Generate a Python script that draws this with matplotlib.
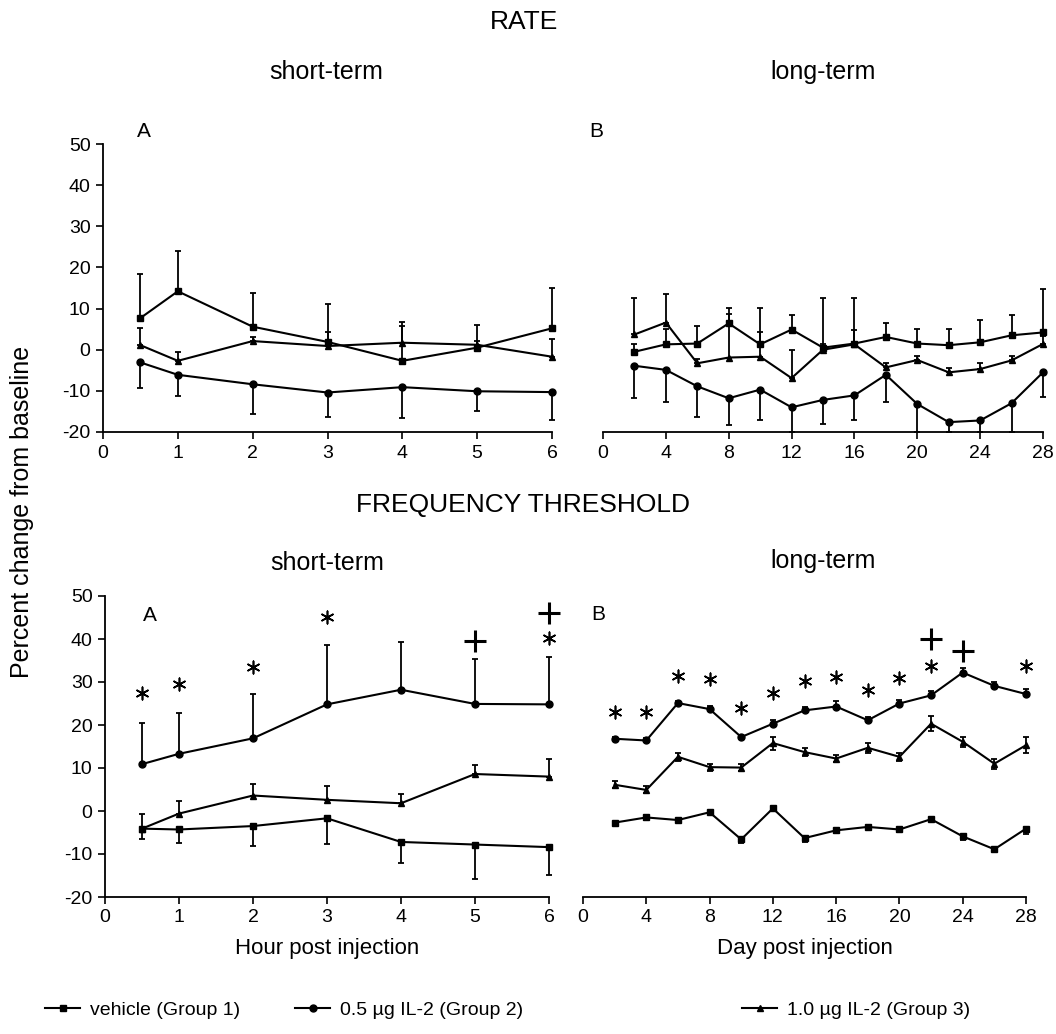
import matplotlib
matplotlib.use("Agg")
import matplotlib.pyplot as plt
from matplotlib.lines import Line2D

plt.rcParams["font.family"] = ["Liberation Sans", "DejaVu Sans"]
plt.rcParams["axes.unicode_minus"] = False

W, H = 1056, 1034

# --- Данные: % изменения от базовой линии ---
hours = [0.5, 1, 2, 3, 4, 5, 6]
days = [2, 4, 6, 8, 10, 12, 14, 16, 18, 20, 22, 24, 26, 28]

# RATE, short-term
rate_st_veh = [7.7, 14.2, 5.6, 1.9, -2.7, 0.5, 5.2]
rate_st_veh_err = [10.7, 9.7, 8.2, 9.3, 9.5, 5.6, 9.9]
rate_st_g2 = [-3.1, -6.1, -8.4, -10.4, -9.1, -10.1, -10.3]
rate_st_g2_err = [6.2, 5.1, 7.2, 6.0, 7.5, 4.9, 6.7]
rate_st_g3 = [1.1, -2.7, 2.1, 0.9, 1.7, 1.2, -1.7]
rate_st_g3_err = [4.1, 2.2, 1.0, 3.4, 4.0, 1.0, 4.3]

# RATE, long-term
rate_lt_veh = [-0.5, 1.3, 1.5, 6.4, 1.3, 4.9, 0.5, 1.5, 3.1, 1.5, 1.1, 1.8, 3.5, 4.2]
rate_lt_veh_err = [2.0, 3.8, 4.3, 3.7, 3.0, 3.5, 1.0, 3.3, 3.3, 3.6, 4.0, 5.4, 4.9, 10.6]
rate_lt_g2 = [-3.9, -4.9, -8.9, -11.8, -9.7, -14.0, -12.2, -11.1, -6.1, -13.2, -17.6, -17.2, -13.0, -5.5]
rate_lt_g2_err = [7.9, 7.7, 7.5, 6.4, 7.5, 6.0, 5.8, 5.9, 6.5, 6.8, 2.4, 2.8, 7.0, 5.9]
rate_lt_g3 = [3.7, 6.6, -3.3, -1.9, -1.7, -6.9, 0.0, 1.3, -4.3, -2.5, -5.5, -4.7, -2.6, 1.4]
rate_lt_g3_err = [8.9, 7.0, 1.0, 10.7, 11.8, 6.8, 12.5, 11.3, 1.0, 1.0, 1.0, 1.5, 1.0, 2.0]

# FREQUENCY THRESHOLD, short-term
thr_st_veh = [-4.1, -4.3, -3.5, -1.7, -7.2, -7.8, -8.4]
thr_st_veh_err = [2.5, 3.1, 4.7, 5.9, 4.8, 8.1, 6.4]
thr_st_g2 = [10.9, 13.3, 16.9, 24.8, 28.2, 24.9, 24.8]
thr_st_g2_err = [9.6, 9.6, 10.3, 13.9, 11.1, 10.5, 10.9]
thr_st_g3 = [-4.1, -0.6, 3.6, 2.6, 1.8, 8.6, 8.0]
thr_st_g3_err = [3.5, 2.9, 2.7, 3.1, 2.1, 2.2, 4.2]

# FREQUENCY THRESHOLD, long-term
thr_lt_veh = [-2.7, -1.5, -2.1, -0.3, -6.6, 0.6, -6.3, -4.5, -3.7, -4.3, -1.9, -5.9, -8.9, -4.1]
thr_lt_veh_err = [0.5, 0.5, 0.5, 0.5, 0.8, 0.5, 0.8, 0.5, 0.5, 0.5, 0.5, 0.8, 0.5, 1.2]
thr_lt_g2 = [16.8, 16.4, 25.1, 23.7, 17.2, 20.3, 23.4, 24.3, 21.1, 25.0, 26.9, 32.2, 29.1, 27.2]
thr_lt_g2_err = [0.5, 0.5, 0.5, 0.8, 0.5, 0.8, 0.8, 1.2, 0.8, 0.8, 1.0, 1.0, 1.0, 1.2]
thr_lt_g3 = [6.1, 4.9, 12.6, 10.2, 10.1, 15.8, 13.7, 12.2, 14.7, 12.6, 20.3, 16.1, 11.0, 15.3]
thr_lt_g3_err = [0.8, 0.8, 1.0, 0.8, 0.8, 1.5, 1.0, 0.8, 1.2, 1.0, 1.8, 1.2, 1.2, 1.8]

# значимость: * и +
thr_st_star_x = [0.5, 1, 2, 3, 6]
thr_st_star_y = [27.4, 29.5, 33.4, 45.1, 40.3]
thr_st_plus_x = [5, 6]
thr_st_plus_y = [39.5, 46.1]
thr_lt_star_x = [2, 4, 6, 8, 10, 12, 14, 16, 18, 20, 22, 28]
thr_lt_star_y = [23.1, 23.1, 31.3, 30.7, 24.0, 27.4, 30.3, 31.2, 28.1, 30.9, 33.8, 33.8]
thr_lt_plus_x = [22, 24]
thr_lt_plus_y = [40.0, 37.3]

groups = ["vehicle (Group 1)", "0.5 \u00b5g IL-2 (Group 2)", "1.0 \u00b5g IL-2 (Group 3)"]
markers = ["s", "o", "^"]


def fx(px):
    return px / W


def fy(py):
    return 1 - py / H


def make_axes(x0, x1, y_top, y_bot, left_spine):
    ax = fig.add_axes([fx(x0), fy(y_bot), (x1 - x0) / W, (y_bot - y_top) / H])
    ax.spines["top"].set_visible(False)
    ax.spines["right"].set_visible(False)
    ax.spines["left"].set_visible(left_spine)
    ax.spines["bottom"].set_linewidth(1.3)
    ax.spines["left"].set_linewidth(1.3)
    ax.set_ylim(-20, 50)
    ax.set_yticks(range(-20, 51, 10))
    ax.tick_params(direction="out", length=5, width=1.2, labelsize=14, pad=4)
    if not left_spine:
        ax.tick_params(axis="y", left=False, labelleft=False)
    ax.patch.set_alpha(0)
    return ax


def series(ax, x, y, err, mk, side):
    lower = err if side in ("down", "both") else [0] * len(err)
    upper = err if side in ("up", "both") else [0] * len(err)
    ax.errorbar(x, y, yerr=[lower, upper], fmt="none", ecolor="black",
                elinewidth=1.3, capsize=2.5, capthick=1.3, clip_on=False)
    ax.plot(x, y, color="black", lw=1.5, marker=mk, ms=5, clip_on=False)


fig = plt.figure(figsize=(W / 100, H / 100), dpi=100)

# RATE
ax1 = make_axes(103, 552, 144, 432, True)
ax1.set_xlim(0, 6)
ax1.set_xticks(range(0, 7))
series(ax1, hours, rate_st_veh, rate_st_veh_err, markers[0], "up")
series(ax1, hours, rate_st_g3, rate_st_g3_err, markers[2], "up")
series(ax1, hours, rate_st_g2, rate_st_g2_err, markers[1], "down")
ax1.text(0.55, 53, "A", fontsize=15, ha="center", va="center", clip_on=False)

ax2 = make_axes(603, 1043, 144, 432, False)
ax2.set_xlim(0, 28)
ax2.set_xticks(range(0, 29, 4))
series(ax2, days, rate_lt_veh, rate_lt_veh_err, markers[0], "up")
series(ax2, days, rate_lt_g3, rate_lt_g3_err, markers[2], "up")
series(ax2, days, rate_lt_g2, rate_lt_g2_err, markers[1], "down")
ax2.text(-0.45, 53, "B", fontsize=15, ha="center", va="center", clip_on=False)

# FREQUENCY THRESHOLD
ax3 = make_axes(105, 549, 596, 897, True)
ax3.set_xlim(0, 6)
ax3.set_xticks(range(0, 7))
series(ax3, hours, thr_st_g2, thr_st_g2_err, markers[1], "up")
series(ax3, hours, thr_st_g3, thr_st_g3_err, markers[2], "up")
series(ax3, hours, thr_st_veh, thr_st_veh_err, markers[0], "down")
ax3.scatter(thr_st_star_x, thr_st_star_y, marker=(6, 2, 0), s=80, c="black", lw=1.2, clip_on=False)
ax3.scatter(thr_st_plus_x, thr_st_plus_y, marker="+", s=230, c="black", lw=2.2, clip_on=False)
ax3.text(0.6, 45.5, "A", fontsize=15, ha="center", va="center")
ax3.set_xlabel("Hour post injection", fontsize=16, labelpad=8)

ax4 = make_axes(583, 1026, 596, 897, False)
ax4.set_xlim(0, 28)
ax4.set_xticks(range(0, 29, 4))
series(ax4, days, thr_lt_g2, thr_lt_g2_err, markers[1], "up")
series(ax4, days, thr_lt_g3, thr_lt_g3_err, markers[2], "both")
series(ax4, days, thr_lt_veh, thr_lt_veh_err, markers[0], "down")
ax4.scatter(thr_lt_star_x, thr_lt_star_y, marker=(6, 2, 0), s=80, c="black", lw=1.2, clip_on=False)
ax4.scatter(thr_lt_plus_x, thr_lt_plus_y, marker="+", s=230, c="black", lw=2.2, clip_on=False)
ax4.text(0.95, 45.8, "B", fontsize=15, ha="center", va="center")
ax4.set_xlabel("Day post injection", fontsize=16, labelpad=8)

# заголовки
fig.text(fx(524), fy(22), "RATE", fontsize=19, ha="center", va="center")
fig.text(fx(326), fy(72), "short-term", fontsize=18, ha="center", va="center")
fig.text(fx(823), fy(72), "long-term", fontsize=18, ha="center", va="center")
fig.text(fx(523), fy(505), "FREQUENCY THRESHOLD", fontsize=19, ha="center", va="center")
fig.text(fx(327), fy(563), "short-term", fontsize=18, ha="center", va="center")
fig.text(fx(823), fy(561), "long-term", fontsize=18, ha="center", va="center")
fig.text(fx(22), fy(512), "Percent change from baseline", fontsize=18,
         rotation=90, ha="center", va="center")

# легенда
legend_x = [45, 295, 742]
for name, mk, lx in zip(groups, markers, legend_x):
    h = Line2D([], [], color="black", lw=1.5, marker=mk, ms=5)
    fig.legend([h], [name], loc="center left", bbox_to_anchor=(fx(lx), fy(1010)),
               frameon=False, fontsize=14, handlelength=1.8, handletextpad=0.5,
               borderaxespad=0, borderpad=0)

fig.savefig("out.png", dpi=100)
